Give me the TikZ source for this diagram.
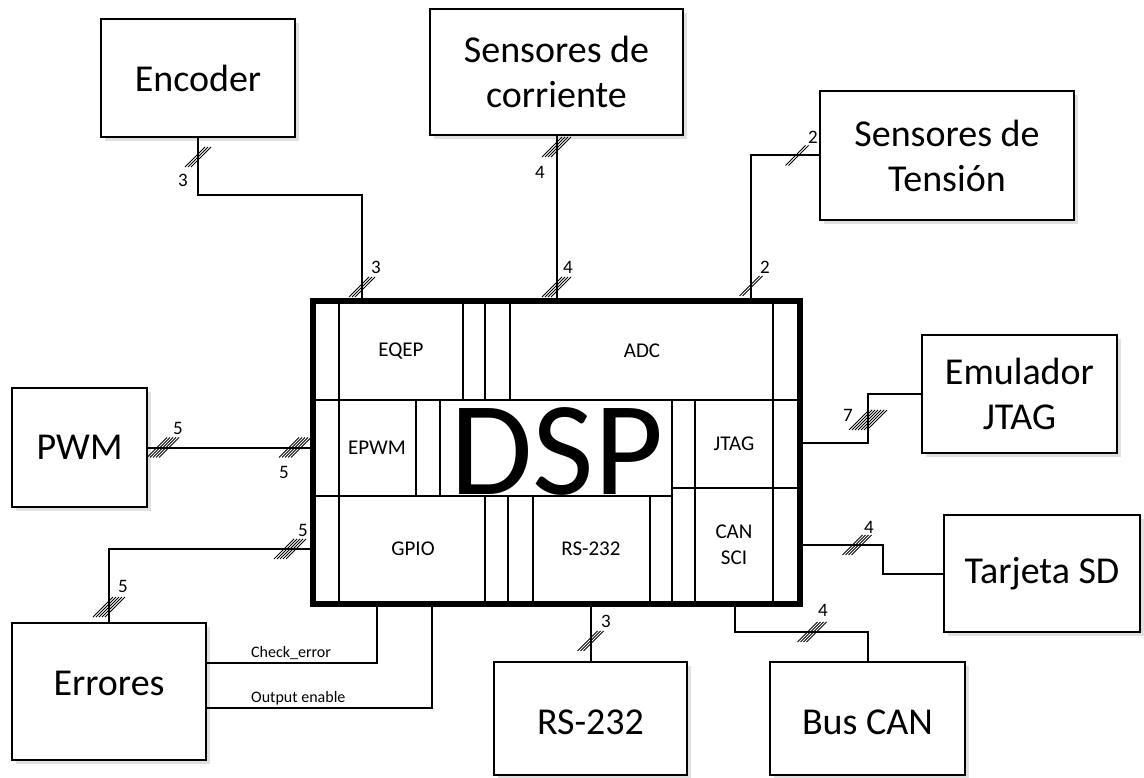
\documentclass[tikz,border=0pt]{standalone}
\usepackage{fontspec}
\setmainfont{Carlito}
\usetikzlibrary{shadows}
\newcommand\busmark[3]{%
  \foreach \k in {1,...,#3}{%
    \draw[busstroke] ({#1-10+(\k-(#3+1)/2)*3},{#2+10}) -- ++(20,-20);
  }%
}
\begin{document}
\begin{tikzpicture}[x=1pt,y=-1pt,
  box/.style={draw, line width=2.2pt, fill=white, rectangle, inner sep=0pt, align=center,
    font=\fontsize{38}{45}\selectfont,
    drop shadow={shadow xshift=4pt, shadow yshift=-4pt, fill=black!12, opacity=1}},
  boxtext/.style={inner sep=0pt, align=center, font=\fontsize{38}{45}\selectfont},
  wire/.style={line width=2pt},
  busstroke/.style={line width=0.8pt},
  buslab/.style={font=\fontsize{19}{19}\selectfont, inner sep=0pt},
  innerline/.style={line width=1.8pt},
  modlab/.style={font=\fontsize{21}{26}\selectfont, inner sep=0pt, align=center},
  sig/.style={font=\fontsize{16}{16}\selectfont, inner sep=0pt, anchor=base west}]
\useasboundingbox (0,0) rectangle (1144,778);

% outer boxes
\node[box, minimum width=194pt, minimum height=118pt] (enc) at (198,78) {Encoder};
\node[box, minimum width=253pt, minimum height=126pt] (sc) at (556.5,72) {Sensores de\\corriente};
\node[box, minimum width=254pt, minimum height=129pt] (st) at (947,155.5) {Sensores de\\Tensión};
\node[box, minimum width=135pt, minimum height=119pt] (pwm) at (79.5,447.5) {PWM};
\node[box, minimum width=194pt, minimum height=137pt] (err) at (109,691.5) {};
\node[boxtext] (errt) at (109,683) {Errores};
\node[box, minimum width=195pt, minimum height=118pt] (emu) at (1019.5,394) {Emulador\\JTAG};
\node[box, minimum width=196pt, minimum height=117pt] (sd) at (1042,573.5) {Tarjeta SD};
\node[box, minimum width=193pt, minimum height=113pt] (rs) at (590.5,718.5) {};
\node[boxtext] (rst) at (590.5,722) {RS-232};
\node[box, minimum width=195pt, minimum height=113pt] (can) at (867.5,718.5) {};
\node[boxtext] (cant) at (867.5,722) {Bus CAN};

% DSP block
\node[draw, line width=4pt, fill=white, minimum width=485pt, minimum height=301pt,
  drop shadow={shadow xshift=4pt, shadow yshift=-4pt, fill=black!12, opacity=1}] (dsp) at (556.5,452.5) {};
\draw[innerline] (314,400) -- (799,400);
\draw[innerline] (314,496) -- (672,496);
\draw[innerline] (672,488) -- (799,488);
\draw[innerline] (339,302) -- (339,603);
\draw[innerline] (773,302) -- (773,603);
\foreach \x in {463,485,510} \draw[innerline] (\x,302) -- (\x,400);
\foreach \x in {416,440} \draw[innerline] (\x,400) -- (\x,496);
\draw[innerline] (672,400) -- (672,603);
\draw[innerline] (695,400) -- (695,603);
\foreach \x in {485,508,533,650} \draw[innerline] (\x,496) -- (\x,603);
\draw[line width=4pt] (dsp.north west) rectangle (dsp.south east);

\node[modlab] (meqep) at (401,351) {EQEP};
\node[modlab] (madc) at (642,351) {ADC};
\node[modlab] (mepwm) at (377,448) {EPWM};
\node[inner sep=0pt, font=\fontsize{134}{134}\selectfont] (dsptext) at (557,451) {DSP};
\node[modlab] (mjtag) at (734,444) {JTAG};
\node[modlab] (mgpio) at (413,549) {GPIO};
\node[modlab] (mrs) at (591,549) {RS-232};
\node[modlab] (mcan) at (734,545) {CAN\\SCI};

% pins on DSP
\coordinate (pEnc) at (362,302);
\coordinate (pSC) at (556.5,302);
\coordinate (pST) at (751,302);
\coordinate (pPWM) at (314,447.5);
\coordinate (pErr) at (314,549);
\coordinate (pChk) at (377,603);
\coordinate (pOE) at (432,603);
\coordinate (pJT) at (799,443);
\coordinate (pSD) at (799,545);
\coordinate (pRS) at (590.5,603);
\coordinate (pCAN) at (735,603);
\coordinate (eChk) at (206,663);
\coordinate (eOE) at (206,708);

% connectors
\draw[wire] (enc.south) -- ++(0,57) -| (pEnc);
\draw[wire] (sc.south) -- (pSC);
\draw[wire] (st.west) -| (pST);
\draw[wire] (pwm.east) -- (pPWM);
\draw[wire] (pErr) -| (err.north);
\draw[wire] (pChk) |- (eChk);
\draw[wire] (pOE) |- (eOE);
\draw[wire] (pJT) -- ++(69,0) |- (emu.west);
\draw[wire] (pSD) -- ++(84,0) |- (sd.west);
\draw[wire] (pRS) -- (rs.north);
\draw[wire] (pCAN) -- ++(0,29) -| (can.north);

% bus marks and widths
\busmark{198}{157}{3} \node[buslab] (l1) at (183,180) {3};
\busmark{362}{287}{3} \node[buslab] (l2) at (376,267) {3};
\busmark{556.5}{147}{4} \node[buslab] (l3) at (540,172) {4};
\busmark{556.5}{287}{4} \node[buslab] (l4) at (568,267) {4};
\busmark{797}{155.5}{2} \node[buslab] (l5) at (813,137) {2};
\busmark{751}{286}{2} \node[buslab] (l6) at (765,267) {2};
\busmark{163}{447.5}{5} \node[buslab] (l7) at (178,428) {5};
\busmark{295}{447.5}{5} \node[buslab] (l8) at (284,472) {5};
\busmark{290}{549}{5} \node[buslab] (l9) at (303,530) {5};
\busmark{109}{607}{5} \node[buslab] (l10) at (123,586) {5};
\busmark{868}{420}{7} \node[buslab] (l11) at (848,415) {7};
\busmark{857}{545}{4} \node[buslab] (l12) at (869,527) {4};
\busmark{590.5}{641}{3} \node[buslab] (l13) at (606,621) {3};
\busmark{812}{632}{4} \node[buslab] (l14) at (823,610) {4};

\node[sig] (chk) at (251,657) {Check\_error};
\node[sig] (oe) at (251,702) {Output enable};
\end{tikzpicture}
\end{document}
